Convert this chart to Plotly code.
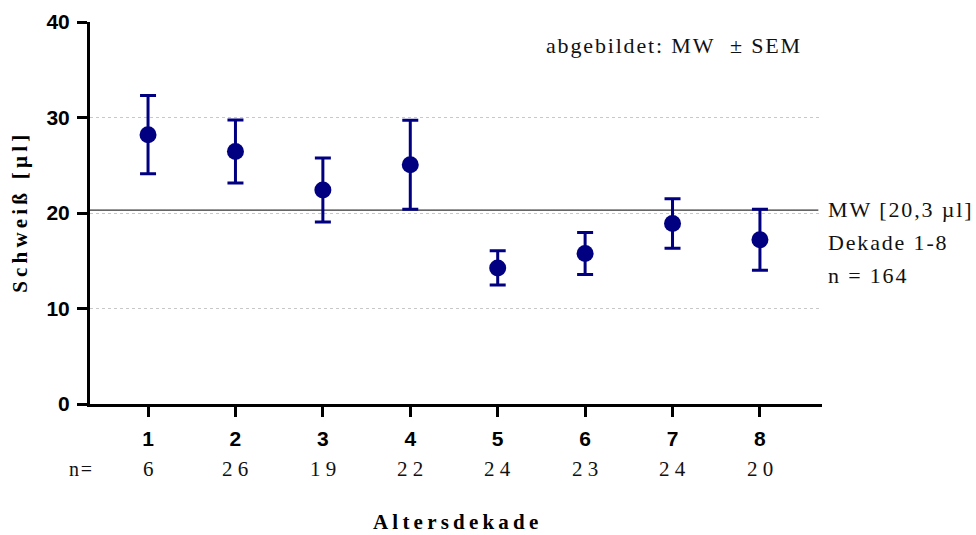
import plotly.graph_objects as go

# Data
dekaden = [1, 2, 3, 4, 5, 6, 7, 8]
mw = [28.2, 26.45, 22.4, 25.05, 14.25, 15.75, 18.9, 17.2]
sem = [4.1, 3.3, 3.35, 4.65, 1.8, 2.2, 2.6, 3.2]
n_werte = [6, 26, 19, 22, 24, 23, 24, 20]
gesamt_mw = 20.3
gesamt_n = 164
y_ticks = [0, 10, 20, 30, 40]

NAVY = "#000080"
SERIF = "Liberation Serif, Times New Roman, serif"
SANS = "Liberation Sans, Arial, sans-serif"
HAIR = "\u200a"
THIN = "\u2009"


def spaced(text, sep):
    # letter-spaced text: separator between characters
    return sep.join(ch for ch in text)


annotations = []
for d, n in zip(dekaden, n_werte):
    annotations.append(dict(x=d, y=-0.171, xref="x", yref="paper", text=" ".join(str(n)),
                            showarrow=False, font=dict(family=SERIF, size=21, color="#111"),
                            xanchor="center", yanchor="middle"))
annotations.append(dict(x=0.006, y=-0.171, xref="paper", yref="paper", text="n" + HAIR + "=",
                        showarrow=False, font=dict(family=SERIF, size=20, color="#111"),
                        xanchor="right", yanchor="middle"))
annotations.append(dict(x=0.797, y=0.938, xref="paper", yref="paper",
                        text=spaced("abgebildet: MW  ± SEM", HAIR),
                        showarrow=False, font=dict(family=SERIF, size=22, color="#111"),
                        xanchor="center", yanchor="middle"))
right_texts = [("MW [20,3 µl]", gesamt_mw + 0.1), ("Dekade 1-8", 16.9), ("n = " + str(gesamt_n), 13.5)]
for t, yy in right_texts:
    annotations.append(dict(x=1.005, y=yy, xref="paper", yref="y",
                            text=spaced(t, HAIR),
                            showarrow=False, font=dict(family=SERIF, size=22, color="#111"),
                            xanchor="left", yanchor="middle"))
# axis titles
annotations.append(dict(x=0.499, y=-0.309, xref="paper", yref="paper",
                        text=spaced("Altersdekade", THIN), showarrow=False,
                        font=dict(family=SERIF, size=21, color="black", weight="bold"),
                        xanchor="center", yanchor="middle"))
annotations.append(dict(x=-0.096, y=0.497, xref="paper", yref="paper",
                        text=spaced("Schweiß [µl]", THIN), showarrow=False, textangle=-90,
                        font=dict(family=SERIF, size=21, color="black", weight="bold"),
                        xanchor="center", yanchor="middle"))

fig = go.Figure()
fig.add_trace(go.Scatter(
    x=dekaden, y=mw, mode="markers",
    marker=dict(color=NAVY, size=17, line=dict(width=0)),
    error_y=dict(type="data", array=sem, visible=True, color=NAVY, thickness=3, width=8),
    showlegend=False, hoverinfo="x+y",
))

# mean line
fig.add_shape(type="line", xref="paper", yref="y", x0=0, x1=0.995, y0=gesamt_mw, y1=gesamt_mw,
              line=dict(color="#333333", width=1.2), layer="below")

fig.update_layout(
    width=976, height=535,
    margin=dict(l=90, r=154, t=22, b=131, autoexpand=False),
    paper_bgcolor="white", plot_bgcolor="white",
    annotations=annotations,
    xaxis=dict(
        range=[0.336, 8.71], tickmode="array", tickvals=dekaden, ticktext=[str(d) for d in dekaden],
        showline=True, linecolor="black", linewidth=3,
        ticks="outside", ticklen=10, tickwidth=3, tickcolor="black",
        tickfont=dict(family=SANS, size=21, color="black", weight="bold"),
        ticklabelstandoff=4, automargin=False,
        showgrid=False, zeroline=False,
    ),
    yaxis=dict(
        range=[0, 40], tickmode="array", tickvals=y_ticks,
        showline=True, linecolor="black", linewidth=3,
        ticks="outside", ticklen=10, tickwidth=3, tickcolor="black",
        tickfont=dict(family=SANS, size=21, color="black", weight="bold"),
        ticklabelstandoff=3, automargin=False,
        showgrid=True, gridcolor="#c8c8c8", griddash="dot", gridwidth=1,
        zeroline=False,
    ),
)

fig.write_html("out.html")
